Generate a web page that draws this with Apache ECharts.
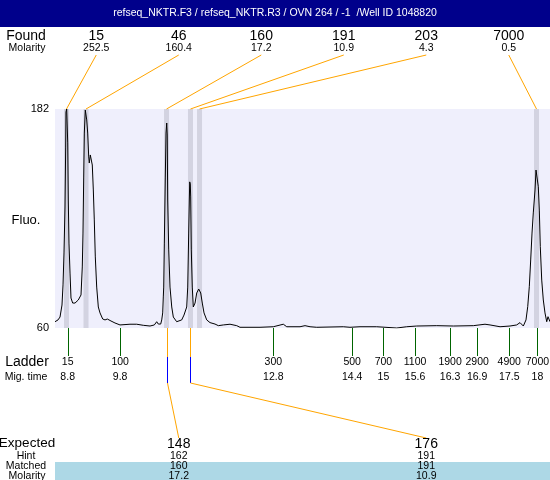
<!DOCTYPE html>
<html>
<head>
<meta charset="utf-8">
<script src="https://cdn.jsdelivr.net/npm/echarts@6/dist/echarts.min.js"></script>
<style>
html,body{margin:0;padding:0;background:#fff;}
#chart{width:550px;height:480px;}
</style>
</head>
<body>
<div id="chart"></div>
<script>
// ---------- data ----------
var titleText = 'refseq_NKTR.F3 / refseq_NKTR.R3 / OVN 264 / -1  /Well ID 1048820';

// electropherogram trace: migration time (min) and fluorescence
var traceTime = [8.565,8.624,8.663,8.702,8.722,8.741,8.761,8.774,8.780,8.794,8.806,8.814,8.825,8.839,8.859,8.878,8.911,8.957,9.021,9.074,
  9.099,9.113,9.127,9.139,9.158,9.172,9.186,9.205,9.225,9.236,9.256,9.276,9.295,9.315,9.334,9.354,9.381,9.413,9.446,9.499,
  9.544,9.589,9.628,9.661,9.739,9.837,10.033,10.164,10.293,10.425,10.509,10.556,10.587,10.634,10.654,10.673,10.685,10.693,10.705,10.724,
  10.738,10.752,10.762,10.771,10.791,10.816,10.850,10.881,10.947,11.045,11.090,11.143,11.163,11.182,11.194,11.202,11.213,11.221,11.233,11.252,
  11.272,11.306,11.339,11.378,11.417,11.448,11.482,11.535,11.599,11.697,11.762,11.860,11.991,12.122,12.186,12.578,12.838,13.034,13.101,13.361,
  13.459,13.557,13.688,14.208,14.339,14.535,14.862,15.254,15.449,15.645,16.037,16.362,16.753,16.982,17.080,17.276,17.471,17.602,17.667,17.732,
  17.784,17.818,17.849,17.876,17.902,17.927,17.961,17.980,18.000,18.025,18.045,18.064,18.092,18.123,18.156,18.190,18.215,18.254];
var traceFluo = [63.5,64.5,66.1,72.8,84.0,101.8,127.4,160.8,180.3,182,182,163.1,131.3,107.3,90.6,76.7,73.9,73.9,75.6,78.4,
  94.0,112.9,144.1,168.6,181.4,182,175.9,168.6,155.3,151.9,156.4,156.4,150.8,136.9,120.2,99.6,82.8,71.7,68.4,65.0,
  64.5,65.0,66.1,63.9,62.8,61.7,62.1,62.1,61.5,61.1,61.7,63.5,62.2,62.2,64.5,68.4,77.3,82.8,107.3,144.1,
  168.6,174.2,167.5,131.3,103.5,82.8,71.7,66.1,63.5,64.5,67.2,71.7,82.8,112.9,131.3,141.4,140.2,133.0,103.5,82.8,
  71.7,73.9,79.5,81.7,79.5,73.9,68.4,64.5,63.0,62.2,61.3,61.7,62.1,61.3,60.4,60.4,60.7,62.1,60.7,60.7,
  61.3,60.7,60.4,60.7,60.4,60.7,60.7,60.0,60.7,61.1,61.3,61.1,61.3,62.1,61.7,60.7,61.1,61.7,63.0,61.1,
  64.5,71.9,83.0,97.9,112.9,124.1,136.9,148.0,149.0,138.7,125.7,105.3,86.7,75.6,68.4,63.5,66.3,63.5];

// found peaks
var foundSizes = [15, 46, 160, 191, 203, 7000];
var foundMolarity = ['252.5', '160.4', '17.2', '10.9', '4.3', '0.5'];
var foundTimes = [8.790, 9.172, 10.748, 11.217, 11.394, 17.990];

// ladder
var ladderSizes = [15, 100, 300, 500, 700, 1100, 1900, 2900, 4900, 7000];
var ladderMigLabels = ['8.8', '9.8', '12.8', '14.4', '15', '15.6', '16.3', '16.9', '17.5', '18'];
var ladderTimes = [8.813, 9.840, 12.838, 14.382, 14.994, 15.613, 16.298, 16.828, 17.457, 18.007];

// expected / matched
var expectedSizes = [148, 176];
var hintSizes = [162, 191];
var matchedSizes = [160, 191];
var matchedMolarity = ['17.2', '10.9'];
var matchedTimes = [10.748, 11.217];

// axis
var timeMin = 8.565, timeMax = 18.254;
var fluoMin = 60, fluoMax = 182;
var bandWidth = 0.098;

// ---------- chart ----------
var FONT = '"Liberation Sans", Arial, sans-serif';
function f(sz){ return sz + 'px ' + FONT; }
function px(v){ return Math.round(v) + 0.5; }

var chart = echarts.init(document.getElementById('chart'), null, {renderer: 'canvas'});

function txt(x, y, s, sz, color){
  return {type: 'text', x: x, y: y, style: {text: s, font: f(sz), fill: color || '#000', align: 'center', verticalAlign: 'middle'}};
}
function zt(o){ o.z = 1; return o; }
// evenly spaced label slots across the plot width
function slot(cs, i, n){ return cs.x + (i + 0.5) * cs.width / n; }

var option = {
  animation: false,
  backgroundColor: '#fff',
  grid: {left: 55, top: 109, width: 495, height: 219, show: true, backgroundColor: '#EFEFFC', borderWidth: 0},
  xAxis: {type: 'value', min: timeMin, max: timeMax, show: false},
  yAxis: {
    type: 'value', min: fluoMin, max: fluoMax, interval: fluoMax - fluoMin,
    axisLine: {show: false}, axisTick: {show: false}, splitLine: {show: false},
    axisLabel: {color: '#000', fontSize: 11, fontFamily: FONT, margin: 6}
  },
  graphic: [
    {type: 'rect', z: 0, shape: {x: 0, y: 0, width: 550, height: 27}, style: {fill: '#00008B'}},
    {type: 'text', z: 1, x: 275, y: 13.5, style: {text: titleText, font: f(10.5), fill: '#fff', align: 'center', verticalAlign: 'middle'}},
    {type: 'rect', z: 0, shape: {x: 55, y: 462, width: 495, height: 18}, style: {fill: '#ADD8E6'}},
    zt(txt(26, 36, 'Found', 14)),
    zt(txt(27, 48.5, 'Molarity', 10.5)),
    zt(txt(26, 220, 'Fluo.', 13)),
    zt(txt(27, 362.5, 'Ladder', 14)),
    zt(txt(26, 377, 'Mig. time', 10.5)),
    zt(txt(27, 443.5, 'Expected', 13.5)),
    zt(txt(26, 456, 'Hint', 10.5)),
    zt(txt(26, 466.5, 'Matched', 10.5)),
    zt(txt(27, 476, 'Molarity', 10.5))
  ],
  series: [
    {
      name: 'found', type: 'custom', z: 1, clip: false,
      data: foundTimes.map(function(t){ return [t]; }),
      renderItem: function(params, api){
        var i = params.dataIndex, cs = params.coordSys;
        var t = api.value(0);
        var top = api.coord([t, fluoMax]), bot = api.coord([t, fluoMin]);
        var w = api.size([bandWidth, 0])[0];
        var lx = slot(cs, i, foundSizes.length);
        return {type: 'group', children: [
          {type: 'rect', shape: {x: top[0] - w / 2, y: top[1], width: w, height: bot[1] - top[1]}, style: {fill: '#D3D3E1'}},
          {type: 'line', shape: {x1: lx, y1: cs.y - 54, x2: top[0], y2: top[1]}, style: {stroke: '#FFA500', lineWidth: 1}},
          txt(lx, cs.y - 73, String(foundSizes[i]), 14),
          txt(lx, cs.y - 60.5, foundMolarity[i], 10.5)
        ]};
      }
    },
    {
      name: 'trace', type: 'line', z: 3, symbol: 'none', silent: true,
      lineStyle: {color: '#000', width: 1},
      data: traceTime.map(function(t, k){ return [t, traceFluo[k]]; })
    },
    {
      name: 'ladder', type: 'custom', z: 2, clip: false,
      data: ladderTimes.map(function(t){ return [t]; }),
      renderItem: function(params, api){
        var i = params.dataIndex;
        var p = api.coord([api.value(0), fluoMin]);
        var x = px(p[0]);
        return {type: 'group', children: [
          {type: 'line', shape: {x1: x, y1: p[1], x2: x, y2: p[1] + 28}, style: {stroke: '#006400', lineWidth: 1}},
          txt(p[0], p[1] + 34.5, String(ladderSizes[i]), 10.5),
          txt(p[0], p[1] + 49, ladderMigLabels[i], 10.5)
        ]};
      }
    },
    {
      name: 'expected', type: 'custom', z: 2, clip: false,
      data: matchedTimes.map(function(t){ return [t]; }),
      renderItem: function(params, api){
        var i = params.dataIndex, cs = params.coordSys;
        var p = api.coord([api.value(0), fluoMin]);
        var x = px(p[0]);
        var lx = slot(cs, i, expectedSizes.length);
        var y0 = p[1], y1 = y0 + 29, y2 = y0 + 55, y3 = y0 + 110;
        return {type: 'group', children: [
          {type: 'line', shape: {x1: x, y1: y0, x2: x, y2: y1}, style: {stroke: '#FFA500', lineWidth: 1}},
          {type: 'line', shape: {x1: x, y1: y1, x2: x, y2: y2}, style: {stroke: '#0000FF', lineWidth: 1}},
          {type: 'line', shape: {x1: x, y1: y2, x2: lx, y2: y3}, style: {stroke: '#FFA500', lineWidth: 1}},
          txt(lx, y0 + 116, String(expectedSizes[i]), 14),
          txt(lx, y0 + 128, String(hintSizes[i]), 10.5),
          txt(lx, y0 + 138.5, String(matchedSizes[i]), 10.5),
          txt(lx, y0 + 148, matchedMolarity[i], 10.5)
        ]};
      }
    }
  ]
};
chart.setOption(option);
</script>
</body>
</html>
